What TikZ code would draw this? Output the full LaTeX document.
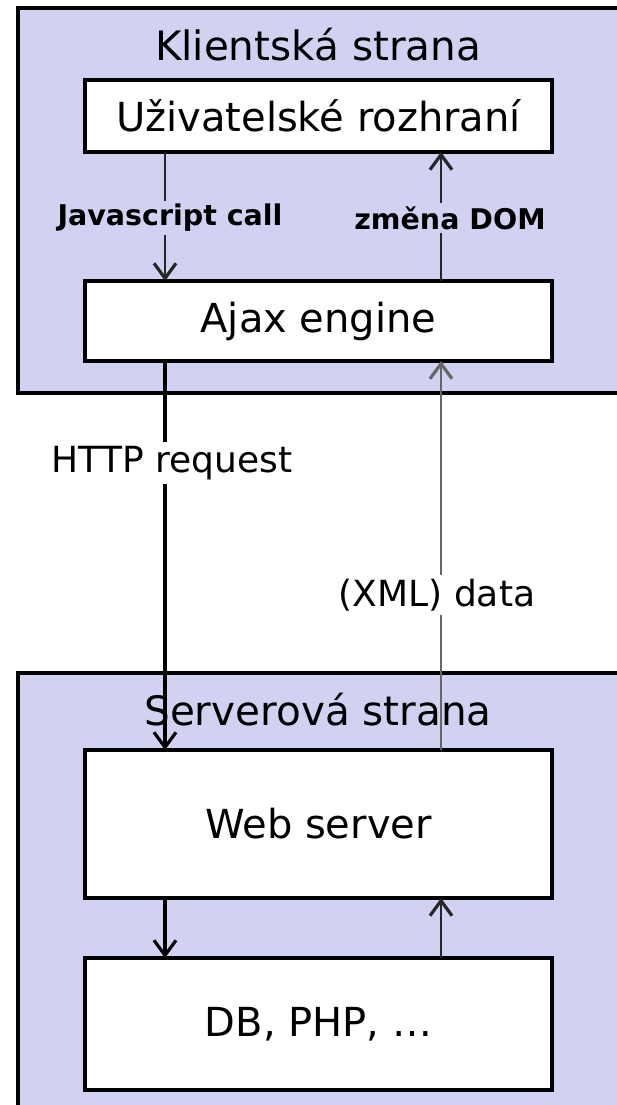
\documentclass[tikz,border=0pt]{standalone}
\usepackage{fontspec}
\setmainfont{DejaVu Sans}
\usetikzlibrary{arrows.meta}
\definecolor{lav}{RGB}{209,209,242}
\tikzset{
  area/.style={draw=black, fill=lav, line width=3.5pt, rectangle, inner sep=0pt, outer sep=0pt},
  box/.style={draw=black, fill=white, line width=3.5pt, rectangle, inner sep=0pt, outer sep=0pt, minimum width=467pt, font=\fontsize{40}{48}\selectfont},
  title/.style={font=\fontsize{40.5}{48}\selectfont, inner sep=0pt},
  blab/.style={font=\fontsize{28.5}{34}\selectfont\bfseries, fill=lav, inner sep=3pt},
  wlab/.style={font=\fontsize{36}{44}\selectfont, fill=white, inner sep=4pt},
  thickarr/.style={line width=3.2pt, -{Straight Barb[length=15pt,width=22pt,line width=3.2pt]}},
  thinarr/.style={line width=2pt, draw=black!85, -{Straight Barb[length=15pt,width=22pt,line width=3.2pt]}},
}
\begin{document}
\begin{tikzpicture}[x=1pt,y=-1pt]
\useasboundingbox (0,0) rectangle (617,1105);
\begin{scope}
\clip (0,0) rectangle (617,1105);
% client side
\node[area, minimum width=622pt, minimum height=385pt] (client) at (329,200.5) {};
\node[title] (ctitle) at (318,45) {Klientská strana};
\node[box, minimum height=72pt] (ui) at (318.5,116) {Uživatelské rozhraní};
\node[box, minimum height=80pt] (ajax) at (318.5,321) {Ajax engine};
% server side
\node[area, minimum width=622pt, minimum height=457pt] (server) at (329,901.5) {};
\coordinate (L1) at (165,0);
\coordinate (R1) at (441,0);
\node[box, minimum height=148pt] (web) at (318.5,824) {Web server};
\node[box, minimum height=132pt] (db) at (318.5,1024) {DB, PHP, …};
% connectors
\draw[thinarr] (ui.south -| L1) -- (ajax.north -| L1);
\draw[thinarr] (ajax.north -| R1) -- (ui.south -| R1);
\node[blab] (js) at (170,218) {Javascript call};
\node[blab] (dom) at (450,218) {změna DOM};
\node[title] (stitle) at (318,710) {Serverová strana};
\draw[thickarr] (ajax.south -| L1) -- (web.north -| L1);
\draw[thinarr, draw=black!60] (web.north -| R1) -- (ajax.south -| R1);
\node[wlab] (http) at (172,463) {HTTP request};
\node[wlab] (xml) at (437,595) {(XML) data};
\draw[thickarr] (web.south -| L1) -- (db.north -| L1);
\draw[thinarr] (db.north -| R1) -- (web.south -| R1);
\end{scope}
\end{tikzpicture}
\end{document}
